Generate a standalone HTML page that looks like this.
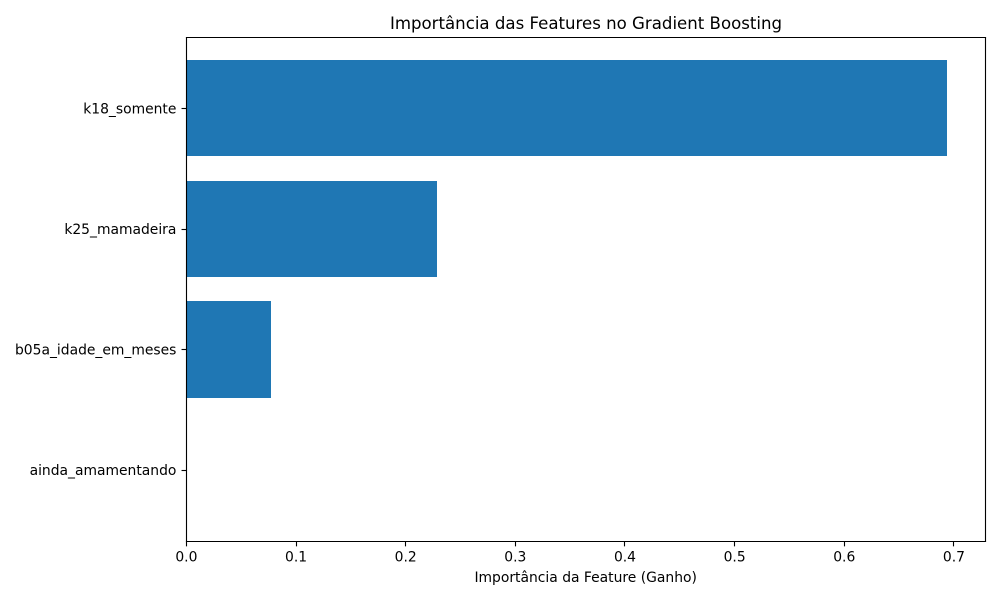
<!DOCTYPE html>
<html lang="pt">
<head>
<meta charset="utf-8">
<title>Importância das Features no Gradient Boosting</title>
<style>
  html, body { margin: 0; padding: 0; background: #fff; }
  svg { display: block; }
  text { font-family: "DejaVu Sans", "Liberation Sans", sans-serif; fill: #000; }
</style>
</head>
<body>
<svg id="chart" xmlns="http://www.w3.org/2000/svg" width="1000" height="600" viewBox="0 0 1000 600">
  <rect x="0" y="0" width="1000" height="600" fill="#ffffff"/>
  <g id="bars" shape-rendering="crispEdges"></g>
  <g id="x-axis"></g>
  <g id="y-axis"></g>
  <line x1="186.5" y1="37.5" x2="186.5" y2="541.5" stroke="#000" stroke-width="1.11" stroke-linecap="square"/>
  <line x1="985.5" y1="37.5" x2="985.5" y2="541.5" stroke="#000" stroke-width="1.11" stroke-linecap="square"/>
  <line x1="186.5" y1="37.5" x2="985.5" y2="37.5" stroke="#000" stroke-width="1.11" stroke-linecap="square"/>
  <line x1="186.5" y1="541.5" x2="985.5" y2="541.5" stroke="#000" stroke-width="1.11" stroke-linecap="square"/>
  <text x="586" y="29" text-anchor="middle" font-size="16.6">Importância das Features no Gradient Boosting</text>
  <text x="585.7" y="582" text-anchor="middle" font-size="13.89">Importância da Feature (Ganho)</text>
</svg>
<script>
const categories = ["ainda_amamentando", "b05a_idade_em_meses", "k25_mamadeira", "k18_somente"];
const importances = [0.0003, 0.077, 0.2285, 0.694];
const xTickValues = [0, 0.1, 0.2, 0.3, 0.4, 0.5, 0.6, 0.7];
const xTickLabels = ["0.0", "0.1", "0.2", "0.3", "0.4", "0.5", "0.6", "0.7"];

const SVG_NS = "http://www.w3.org/2000/svg";
const plot = { left: 186.4, right: 985.4, top: 37.16, bottom: 540.93 };
const axisLineY = 541.5;
const barThickness = 0.8;
const xMax = Math.max(...importances) * 1.05;
const yPad = (categories.length - 1 + barThickness) * 0.05;
const yMin = -barThickness / 2 - yPad;
const yMax = categories.length - 1 + barThickness / 2 + yPad;

function xScale(v) {
  return plot.left + (v / xMax) * (plot.right - plot.left);
}
function yScale(i) {
  return plot.bottom - ((i - yMin) / (yMax - yMin)) * (plot.bottom - plot.top);
}
function make(tag, attrs) {
  const el = document.createElementNS(SVG_NS, tag);
  for (const k in attrs) el.setAttribute(k, attrs[k]);
  return el;
}

const barsGroup = document.getElementById("bars");
const xAxisGroup = document.getElementById("x-axis");
const yAxisGroup = document.getElementById("y-axis");

categories.forEach(function (name, i) {
  const top = Math.round(yScale(i + barThickness / 2));
  const bottom = Math.round(yScale(i - barThickness / 2));
  const left = Math.round(xScale(0));
  const right = Math.round(xScale(importances[i]));
  const bar = make("rect", {
    x: left,
    y: top,
    width: right - left,
    height: bottom - top,
    fill: "#1f77b4"
  });
  
  
  barsGroup.appendChild(bar);

  const yPos = Math.round(yScale(i)) + 0.5;
  const tick = make("line", { x1: plot.left - 4.86, x2: plot.left, y1: yPos, y2: yPos, stroke: "#000", "stroke-width": 1.11 });
  
  
  yAxisGroup.appendChild(tick);

  const label = make("text", { x: plot.left - 10, y: yScale(i) + 5.2, "text-anchor": "end", "font-size": 13.89 });
  label.textContent = name;
  
  
  yAxisGroup.appendChild(label);
});

xTickValues.forEach(function (v, i) {
  const xPos = Math.round(xScale(v) - 0.5) + 0.5;
  const tick = make("line", { x1: xPos, x2: xPos, y1: axisLineY, y2: axisLineY + 4.86, stroke: "#000", "stroke-width": 1.11 });
  
  
  xAxisGroup.appendChild(tick);

  const label = make("text", { x: xScale(v), y: axisLineY + 20, "text-anchor": "middle", "font-size": 13.89 });
  label.textContent = xTickLabels[i];
  
  
  xAxisGroup.appendChild(label);
});
</script>
</body>
</html>
